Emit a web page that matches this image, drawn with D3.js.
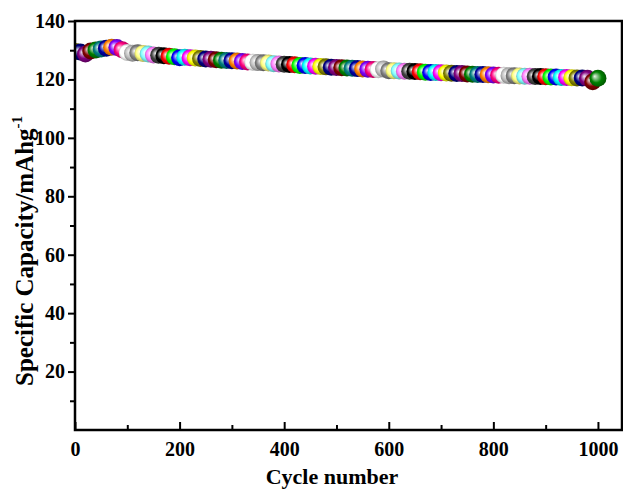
<!DOCTYPE html>
<html>
<head>
<meta charset="utf-8">
<script src="https://cdn.jsdelivr.net/npm/d3@7"></script>
<style>
  body { margin: 0; background: #fff; }
  svg { display: block; }
  .tick text { font-family: "Liberation Serif", "Times New Roman", serif; font-weight: bold; }
</style>
</head>
<body>
<div id="chart"></div>
<script>
// cycle number vs specific capacity (every 10 cycles)
var cycles = [1, 10, 20, 30, 40, 50, 60, 70, 80, 90,
  100, 110, 120, 130, 140, 150, 160, 170, 180, 190,
  200, 210, 220, 230, 240, 250, 260, 270, 280, 290,
  300, 310, 320, 330, 340, 350, 360, 370, 380, 390,
  400, 410, 420, 430, 440, 450, 460, 470, 480, 490,
  500, 510, 520, 530, 540, 550, 560, 570, 580, 590,
  600, 610, 620, 630, 640, 650, 660, 670, 680, 690,
  700, 710, 720, 730, 740, 750, 760, 770, 780, 790,
  800, 810, 820, 830, 840, 850, 860, 870, 880, 890,
  900, 910, 920, 930, 940, 950, 960, 970, 980, 990, 1000];

var capacity = [129.6, 129.4, 128.7, 129.7, 130.1, 130.4, 130.7, 131.0, 130.9, 130.2,
  129.2, 129.0, 129.1, 128.9, 128.7, 128.4, 128.3, 128.1, 127.9, 127.8,
  127.4, 127.6, 127.4, 127.3, 127.2, 127.0, 126.9, 126.7, 126.6, 126.5,
  126.4, 126.3, 126.1, 126.0, 125.9, 125.8, 125.7, 125.6, 125.4, 125.3,
  125.2, 125.1, 125.0, 124.8, 124.8, 124.6, 124.5, 124.4, 124.3, 124.2,
  124.1, 124.0, 123.9, 123.8, 123.7, 123.6, 123.5, 123.4, 123.3, 123.6,
  123.0, 123.0, 122.9, 122.8, 122.8, 122.7, 122.6, 122.5, 122.4, 122.4,
  122.3, 122.2, 122.1, 122.0, 122.0, 121.9, 121.8, 121.7, 121.7, 121.6,
  121.5, 121.4, 121.4, 121.3, 121.3, 121.2, 121.1, 121.1, 121.0, 121.0,
  120.9, 120.8, 120.8, 120.7, 120.7, 120.6, 120.5, 120.5, 120.4, 119.2, 120.4];

var xTicks = [0, 200, 400, 600, 800, 1000];
var xMinor = [100, 300, 500, 700, 900];
var yTicks = [20, 40, 60, 80, 100, 120, 140];
var yMinor = [10, 30, 50, 70, 90, 110, 130];

// origin-like increment colours
var palette = ["#000000", "#ff0000", "#00ff00", "#0000ff", "#00ffff", "#ff00ff",
  "#ffff00", "#808000", "#000080", "#800080", "#800000", "#008000",
  "#008080", "#0000a0", "#ff8000", "#8000ff", "#ff0080", "#ffffff",
  "#c0c0c0", "#808080", "#ffff80", "#80ffff", "#ff80ff", "#404040"];

var svgW = 623, svgH = 491;
var pLeft = 75, pRight = 622, pTop = 21, pBottom = 430;

var data = cycles.map(function(c, i) { return {cycle: c, cap: capacity[i], i: i}; });

var x = d3.scaleLinear().domain([0, 1046]).range([pLeft, pRight]);
var y = d3.scaleLinear().domain([0, 140]).range([pBottom, pTop]);

var svg = d3.select("#chart").append("svg")
    .attr("width", svgW)
    .attr("height", svgH);

var defs = svg.append("defs");
defs.append("clipPath").attr("id", "plotclip")
  .append("rect")
    .attr("x", pLeft).attr("y", pTop)
    .attr("width", pRight - pLeft).attr("height", pBottom - pTop);

palette.forEach(function(col, k) {
    var g = defs.append("radialGradient")
        .attr("id", "ball" + k)
        .attr("cx", "50%").attr("cy", "50%").attr("r", "58%")
        .attr("fx", "30%").attr("fy", "38%");
    g.append("stop").attr("offset", "0%").attr("stop-color", d3.interpolateRgb(col, "#fff")(0.92));
    g.append("stop").attr("offset", "22%").attr("stop-color", d3.interpolateRgb(col, "#fff")(0.55));
    g.append("stop").attr("offset", "55%").attr("stop-color", col);
    g.append("stop").attr("offset", "100%").attr("stop-color", d3.color(col).darker(1.5));
});

// points
svg.append("g")
    .attr("clip-path", "url(#plotclip)")
  .selectAll("circle")
    .data(data)
  .enter().append("circle")
    .attr("cx", function(d) { return x(d.cycle); })
    .attr("cy", function(d) { return y(d.cap); })
    .attr("r", 8.5)
    .style("fill", function(d) { return "url(#ball" + ((d.i + 7) % 24) + ")"; });

// x axis (ticks pointing in)
var xAxis = d3.axisBottom(x).tickValues(xTicks).tickFormat(d3.format("d"))
    .tickSizeInner(-8).tickSizeOuter(0);
var gx = svg.append("g")
    .attr("class", "x axis")
    .attr("transform", "translate(0," + pBottom + ")")
    .call(xAxis);
gx.select(".domain").remove();
gx.selectAll(".tick line").attr("stroke-width", 2);
gx.selectAll(".tick text").style("font-size", "20px").attr("y", 12).attr("dy", "0.71em");

var gxm = svg.append("g")
    .attr("transform", "translate(0," + pBottom + ")")
    .call(d3.axisBottom(x).tickValues(xMinor).tickSizeInner(-5).tickSizeOuter(0).tickFormat(""));
gxm.select(".domain").remove();
gxm.selectAll(".tick line").attr("stroke-width", 2);

// y axis (ticks pointing out)
var yAxis = d3.axisLeft(y).tickValues(yTicks).tickSizeInner(7).tickSizeOuter(0).tickPadding(3);
var gy = svg.append("g")
    .attr("class", "y axis")
    .attr("transform", "translate(" + pLeft + ",0)")
    .call(yAxis);
gy.select(".domain").remove();
gy.selectAll(".tick line").attr("stroke-width", 2);
gy.selectAll(".tick text").style("font-size", "20px");

var gym = svg.append("g")
    .attr("transform", "translate(" + pLeft + ",0)")
    .call(d3.axisLeft(y).tickValues(yMinor).tickSizeInner(5).tickSizeOuter(0).tickFormat(""));
gym.select(".domain").remove();
gym.selectAll(".tick line").attr("stroke-width", 2);

// frame
svg.append("rect")
    .attr("x", pLeft).attr("y", pTop)
    .attr("width", pRight - pLeft).attr("height", pBottom - pTop)
    .style("fill", "none")
    .style("stroke", "#000")
    .style("stroke-width", 2.5);

// titles
svg.append("text")
    .attr("x", 332)
    .attr("y", 484)
    .style("text-anchor", "middle")
    .style("font-family", "'Liberation Serif', 'Times New Roman', serif")
    .style("font-weight", "bold")
    .style("font-size", "22px")
    .text("Cycle number");

var yt = svg.append("text")
    .attr("transform", "translate(33,386) rotate(-90)")
    .style("font-family", "'Liberation Serif', 'Times New Roman', serif")
    .style("font-weight", "bold")
    .style("font-size", "25px");
yt.append("tspan").text("Specific Capacity/mAhg");
yt.append("tspan").attr("dy", "-11").style("font-size", "15px").text("-1");
</script>
</body>
</html>
